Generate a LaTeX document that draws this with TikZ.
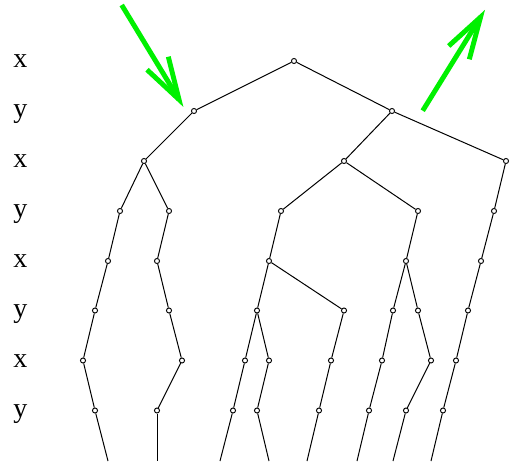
\documentclass[tikz,border=0pt]{standalone}
\usepackage{fontspec}
\setmainfont{Liberation Serif}
\definecolor{hintgreen}{RGB}{0,240,0}
\begin{document}
\begin{tikzpicture}[x=0.75pt,y=-0.75pt,
  vtx/.style={circle,draw,fill=white,inner sep=0pt,minimum size=3.8pt,line width=0.7pt},
  edge/.style={line width=0.75pt},
  lbl/.style={anchor=base,inner sep=0pt,font=\fontsize{21}{25}\selectfont},
  hint/.style={draw=hintgreen,line width=3.7pt,line join=miter}]
\path[use as bounding box] (0,0) rectangle (516,465);
% labels
\node[lbl] (lx1) at (20.5,67.5) {x};
\node[lbl] (ly1) at (20.5,117.5) {y};
\node[lbl] (lx2) at (20.5,167.5) {x};
\node[lbl] (ly2) at (20.5,217.5) {y};
\node[lbl] (lx3) at (20.5,267.5) {x};
\node[lbl] (ly3) at (20.5,317) {y};
\node[lbl] (lx4) at (20.5,367) {x};
\node[lbl] (ly4) at (20.5,417) {y};
% vertices
\node[vtx] (n11) at (294,61) {};
\node[vtx] (n21) at (194,111) {};
\node[vtx] (n22) at (392,111) {};
\node[vtx] (n31) at (144,161) {};
\node[vtx] (n32) at (344,161) {};
\node[vtx] (n33) at (506,161) {};
\node[vtx] (n41) at (120,211) {};
\node[vtx] (n42) at (169,211) {};
\node[vtx] (n43) at (281,211) {};
\node[vtx] (n44) at (418,211) {};
\node[vtx] (n45) at (494,211) {};
\node[vtx] (n51) at (108,261) {};
\node[vtx] (n52) at (157,261) {};
\node[vtx] (n53) at (269,261) {};
\node[vtx] (n54) at (406,261) {};
\node[vtx] (n55) at (481,261) {};
\node[vtx] (n61) at (95,310.5) {};
\node[vtx] (n62) at (169,310.5) {};
\node[vtx] (n63) at (257,310.5) {};
\node[vtx] (n64) at (344,310.5) {};
\node[vtx] (n65) at (393,310.5) {};
\node[vtx] (n66) at (418,310.5) {};
\node[vtx] (n67) at (468,310.5) {};
\node[vtx] (n71) at (83,360.5) {};
\node[vtx] (n72) at (182,360.5) {};
\node[vtx] (n73) at (245,360.5) {};
\node[vtx] (n74) at (269,360.5) {};
\node[vtx] (n75) at (331,360.5) {};
\node[vtx] (n76) at (382,360.5) {};
\node[vtx] (n77) at (431,360.5) {};
\node[vtx] (n78) at (456,360.5) {};
\node[vtx] (n81) at (95,410.5) {};
\node[vtx] (n82) at (157,410.5) {};
\node[vtx] (n83) at (233,410.5) {};
\node[vtx] (n84) at (257,410.5) {};
\node[vtx] (n85) at (319,410.5) {};
\node[vtx] (n86) at (369,410.5) {};
\node[vtx] (n87) at (406,410.5) {};
\node[vtx] (n88) at (443,410.5) {};
% free ends
\coordinate (e1) at (108,461);
\coordinate (e2) at (157,461);
\coordinate (e3) at (220,461);
\coordinate (e4) at (269,461);
\coordinate (e5) at (307,461);
\coordinate (e6) at (357,461);
\coordinate (e7) at (393,461);
\coordinate (e8) at (431,461);
% edges
\draw[edge] (n11)--(n21); \draw[edge] (n11)--(n22);
\draw[edge] (n21)--(n31); \draw[edge] (n22)--(n32); \draw[edge] (n22)--(n33);
\draw[edge] (n31)--(n41); \draw[edge] (n31)--(n42);
\draw[edge] (n32)--(n43); \draw[edge] (n32)--(n44); \draw[edge] (n33)--(n45);
\draw[edge] (n41)--(n51); \draw[edge] (n42)--(n52); \draw[edge] (n43)--(n53);
\draw[edge] (n44)--(n54); \draw[edge] (n45)--(n55);
\draw[edge] (n51)--(n61); \draw[edge] (n52)--(n62); \draw[edge] (n53)--(n63);
\draw[edge] (n53)--(n64); \draw[edge] (n54)--(n65); \draw[edge] (n54)--(n66);
\draw[edge] (n55)--(n67);
\draw[edge] (n61)--(n71); \draw[edge] (n62)--(n72); \draw[edge] (n63)--(n73);
\draw[edge] (n63)--(n74); \draw[edge] (n64)--(n75); \draw[edge] (n65)--(n76);
\draw[edge] (n66)--(n77); \draw[edge] (n67)--(n78);
\draw[edge] (n71)--(n81); \draw[edge] (n72)--(n82); \draw[edge] (n73)--(n83);
\draw[edge] (n74)--(n84); \draw[edge] (n75)--(n85); \draw[edge] (n76)--(n86);
\draw[edge] (n77)--(n87); \draw[edge] (n78)--(n88);
\draw[edge] (n81)--(e1); \draw[edge] (n82)--(e2); \draw[edge] (n83)--(e3);
\draw[edge] (n84)--(e4); \draw[edge] (n85)--(e5); \draw[edge] (n86)--(e6);
\draw[edge] (n87)--(e7); \draw[edge] (n88)--(e8);
% green hint arrows
\coordinate (a1s) at (121.7,5);
\coordinate (a1t) at (179,99.5);
\coordinate (a1l) at (147,69.7);
\coordinate (a1r) at (168.3,56.7);
\draw[hint] (a1s) -- (a1t);
\draw[hint] (a1l) -- (a1t) -- (a1r);
\coordinate (a2s) at (422.7,110.7);
\coordinate (a2t) at (480.5,17.2);
\coordinate (a2l) at (448.7,46);
\coordinate (a2r) at (469.3,59.3);
\draw[hint] (a2s) -- (a2t);
\draw[hint] (a2l) -- (a2t) -- (a2r);
\end{tikzpicture}
\end{document}
